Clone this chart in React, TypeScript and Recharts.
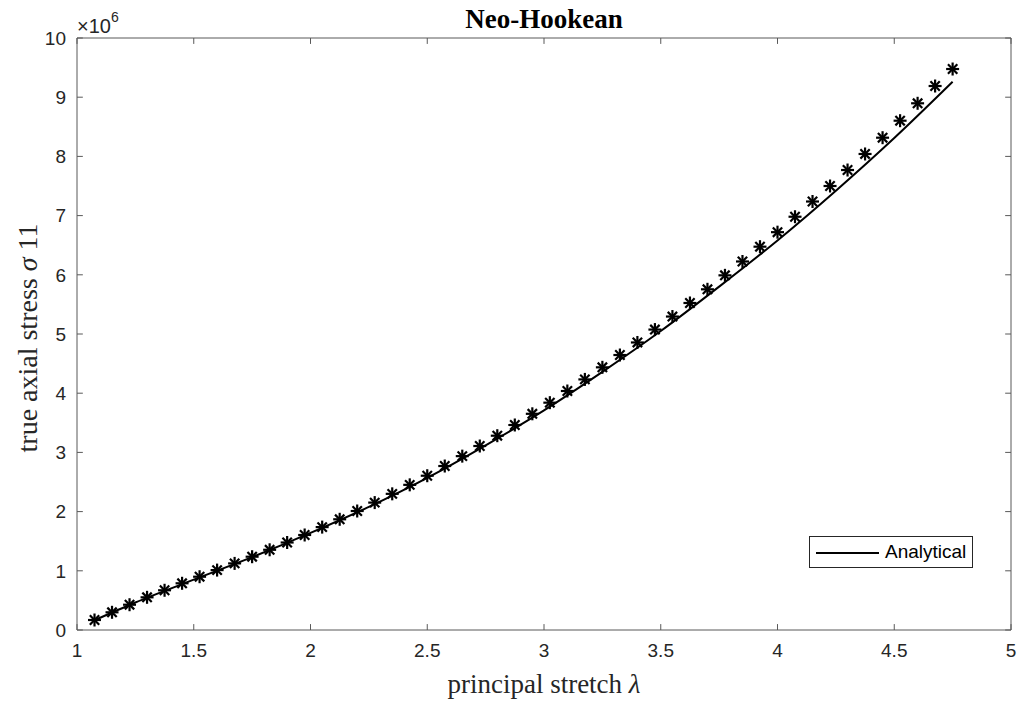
import { ComposedChart, Legend, Line, ReferenceLine, Scatter, XAxis, YAxis } from 'recharts';

// principal stretch of the sampled (star) points
const STRETCH = [
  1.075, 1.15, 1.225, 1.3, 1.375, 1.45, 1.525, 1.6, 1.675, 1.75,
  1.825, 1.9, 1.975, 2.05, 2.125, 2.2, 2.275, 2.35, 2.425, 2.5,
  2.575, 2.65, 2.725, 2.8, 2.875, 2.95, 3.025, 3.1, 3.175, 3.25,
  3.325, 3.4, 3.475, 3.55, 3.625, 3.7, 3.775, 3.85, 3.925, 4.0,
  4.075, 4.15, 4.225, 4.3, 4.375, 4.45, 4.525, 4.6, 4.675, 4.75
];

// true axial stress, in units of 1e6
const STRESS_NUMERIC = [
  0.169, 0.299, 0.427, 0.552, 0.671, 0.789, 0.9, 1.012, 1.125, 1.238,
  1.355, 1.478, 1.605, 1.738, 1.87, 2.01, 2.152, 2.3, 2.452, 2.606,
  2.77, 2.937, 3.108, 3.282, 3.463, 3.652, 3.84, 4.037, 4.233, 4.437,
  4.645, 4.857, 5.075, 5.295, 5.524, 5.755, 5.991, 6.225, 6.475, 6.72,
  6.981, 7.238, 7.5, 7.77, 8.041, 8.316, 8.603, 8.897, 9.189, 9.476
];

// analytical curve
const ANALYTICAL_STRETCH = [
  1.075, 1.25, 1.5, 1.75, 2.0, 2.25, 2.5, 2.75, 3.0, 3.25, 3.5, 3.75, 4.0, 4.25, 4.5, 4.75
];
const ANALYTICAL_STRESS = [
  0.165, 0.465, 0.85, 1.23, 1.64, 2.08, 2.57, 3.12, 3.71, 4.36, 5.05, 5.8, 6.58, 7.42, 8.31, 9.26
];

const X_TICKS = [1, 1.5, 2, 2.5, 3, 3.5, 4, 4.5, 5];
const Y_TICKS = [0, 1, 2, 3, 4, 5, 6, 7, 8, 9, 10];

const numericData = STRETCH.map((x, i) => ({ x, y: STRESS_NUMERIC[i] }));
const analyticalData = ANALYTICAL_STRETCH.map((x, i) => ({ x, y: ANALYTICAL_STRESS[i] }));

const AXIS = '#595959';
const TEXT = '#262626';
const SANS = '"Liberation Sans", Arial, Helvetica, sans-serif';
const SERIF = '"Liberation Serif", "Times New Roman", serif';

function Asterisk(props: any) {
  const { cx, cy } = props;
  if (cx == null || cy == null) return null;
  const r = 6.5;
  const d = r * 0.72;
  return (
    <g stroke="#000" strokeWidth={2.2} strokeLinecap="butt">
      <line x1={cx - r} y1={cy} x2={cx + r} y2={cy} />
      <line x1={cx} y1={cy - r} x2={cx} y2={cy + r} />
      <line x1={cx - d} y1={cy - d} x2={cx + d} y2={cy + d} />
      <line x1={cx - d} y1={cy + d} x2={cx + d} y2={cy - d} />
    </g>
  );
}

function LegendBox() {
  return (
    <div
      style={{
        boxSizing: 'border-box',
        width: 164,
        height: 32,
        border: `1px solid ${TEXT}`,
        background: '#fff',
        display: 'flex',
        alignItems: 'center',
        fontFamily: SANS,
        fontSize: 19,
        color: '#000'
      }}
    >
      <svg width={75} height={30} style={{ display: 'block' }}>
        <line x1={6} y1={16} x2={69} y2={16} stroke="#000" strokeWidth={2} />
      </svg>
      <span>Analytical</span>
    </div>
  );
}

export default function App() {
  return (
    <div style={{ position: 'fixed', left: 0, top: 0, width: 1023, height: 704, background: '#fff' }}>
      <ComposedChart width={1023} height={704} margin={{ top: 38, right: 12, bottom: 0, left: 0 }}>
        <XAxis
          dataKey="x"
          type="number"
          domain={[1, 5]}
          ticks={X_TICKS}
          allowDataOverflow
          height={74}
          axisLine={{ stroke: AXIS }}
          tickLine={false}
          tickSize={6}
          tickMargin={8}
          tick={{ fill: TEXT, fontSize: 19, fontFamily: SANS }}
          label={{
            content: (p: any) => {
              const vb = p.viewBox;
              return (
                <text
                  x={vb.x + vb.width / 2}
                  y={vb.y + 63}
                  textAnchor="middle"
                  fontFamily={SERIF}
                  fontSize={27}
                  fill={TEXT}
                >
                  principal stretch <tspan fontStyle="italic">λ</tspan>
                </text>
              );
            }
          }}
        />
        <YAxis
          dataKey="y"
          type="number"
          domain={[0, 10]}
          ticks={Y_TICKS}
          allowDataOverflow
          width={77}
          axisLine={{ stroke: AXIS }}
          tickLine={false}
          tickSize={6}
          tickMargin={5}
          tick={{ fill: TEXT, fontSize: 19, fontFamily: SANS }}
          label={{
            content: (p: any) => {
              const vb = p.viewBox;
              const cy = vb.y + vb.height / 2 + 4;
              return (
                <text
                  x={37}
                  y={cy}
                  transform={`rotate(-90, 37, ${cy})`}
                  textAnchor="middle"
                  fontFamily={SERIF}
                  fontSize={28}
                  fill={TEXT}
                >
                  true axial stress <tspan fontStyle="italic">σ</tspan> 11
                </text>
              );
            }
          }}
        />

        {/* box edges */}
        <ReferenceLine
          y={10}
          stroke={AXIS}
          label={{
            content: (p: any) => {
              const vb = p.viewBox;
              return (
                <g>
                  <text
                    x={vb.x + vb.width / 2}
                    y={28}
                    textAnchor="middle"
                    fontFamily={SERIF}
                    fontWeight="bold"
                    fontSize={27}
                    fill="#000"
                  >
                    Neo-Hookean
                  </text>
                  <text x={vb.x} y={33} fontFamily={SANS} fontSize={20} fill={TEXT}>
                    ×10<tspan dy={-11} fontSize={14}>6</tspan>
                  </text>
                </g>
              );
            }
          }}
        />
        <ReferenceLine x={5} stroke={AXIS} />

        {/* inward tick marks on all four sides */}
        {X_TICKS.map((t) => (
          <ReferenceLine key={`xb${t}`} segment={[{ x: t, y: 0 }, { x: t, y: 0.1 }]} stroke={AXIS} />
        ))}
        {X_TICKS.map((t) => (
          <ReferenceLine key={`xt${t}`} segment={[{ x: t, y: 10 }, { x: t, y: 9.9 }]} stroke={AXIS} />
        ))}
        {Y_TICKS.map((t) => (
          <ReferenceLine key={`yl${t}`} segment={[{ x: 1, y: t }, { x: 1.025, y: t }]} stroke={AXIS} />
        ))}
        {Y_TICKS.map((t) => (
          <ReferenceLine key={`yr${t}`} segment={[{ x: 5, y: t }, { x: 4.975, y: t }]} stroke={AXIS} />
        ))}

        <Line
          data={analyticalData}
          dataKey="y"
          name="Analytical"
          type="monotone"
          stroke="#000"
          strokeWidth={2}
          dot={false}
          activeDot={false}
          isAnimationActive={false}
        />
        <Scatter
          data={numericData}
          dataKey="y"
          name="Numerical"
          shape={Asterisk}
          legendType="none"
          isAnimationActive={false}
        />

        <Legend
          layout="horizontal"
          align="center"
          verticalAlign="middle"
          content={() => <LegendBox />}
          wrapperStyle={{ left: 809, top: 536, bottom: 'auto', width: 164, height: 32 }}
        />
      </ComposedChart>
    </div>
  );
}
